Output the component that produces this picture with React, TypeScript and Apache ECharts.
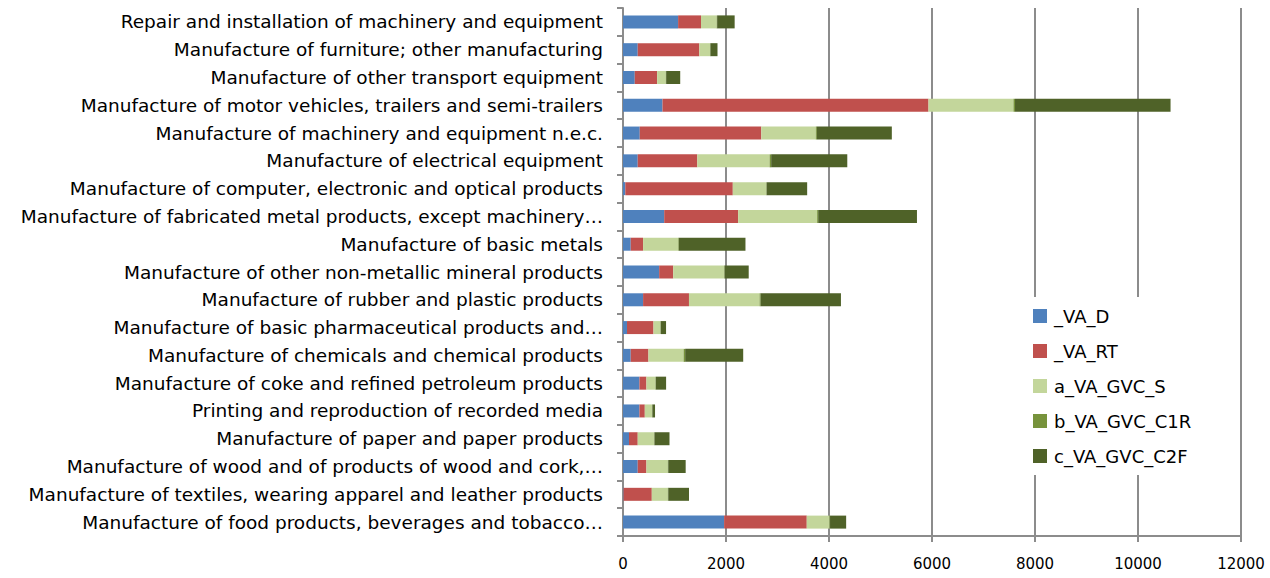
import React, { useEffect, useRef } from "react";
import * as echarts from "echarts";

const categories = [
  "Manufacture of food products, beverages and tobacco…",
  "Manufacture of textiles, wearing apparel and leather products",
  "Manufacture of wood and of products of wood and cork,…",
  "Manufacture of paper and paper products",
  "Printing and reproduction of recorded media",
  "Manufacture of coke and refined petroleum products",
  "Manufacture of chemicals and chemical products",
  "Manufacture of basic pharmaceutical products and…",
  "Manufacture of rubber and plastic products",
  "Manufacture of other non-metallic mineral products",
  "Manufacture of basic metals",
  "Manufacture of fabricated metal products, except machinery…",
  "Manufacture of computer, electronic and optical products",
  "Manufacture of electrical equipment",
  "Manufacture of machinery and equipment n.e.c.",
  "Manufacture of motor vehicles, trailers and semi-trailers",
  "Manufacture of other transport equipment",
  "Manufacture of furniture; other manufacturing",
  "Repair and installation of machinery and equipment",
];

const vaD = [1963, 10, 286, 117, 319, 319, 150, 78, 390, 702, 150, 800, 45, 286, 325, 767, 228, 286, 1070];
const vaRT = [1605, 549, 169, 169, 104, 136, 344, 514, 891, 273, 240, 1436, 2087, 1157, 2360, 5165, 435, 1196, 445];
const vaGvcS = [442, 312, 416, 319, 143, 176, 683, 136, 1371, 988, 683, 1534, 650, 1404, 1059, 1650, 169, 208, 305];
const vaGvcC1R = [10, 8, 8, 6, 4, 5, 30, 4, 20, 10, 12, 20, 8, 30, 20, 30, 6, 8, 8];
const vaGvcC2F = [313, 403, 338, 292, 52, 201, 1127, 104, 1560, 468, 1293, 1918, 786, 1478, 1456, 3020, 273, 137, 340];

const seriesNames = ["_VA_D", "_VA_RT", "a_VA_GVC_S", "b_VA_GVC_C1R", "c_VA_GVC_C2F"];
const seriesColors = ["#4F81BD", "#C0504D", "#C3D69B", "#77933C", "#4F6228"];
const xTicks = [0, 2000, 4000, 6000, 8000, 10000, 12000];

export default function App() {
  const ref = useRef<HTMLDivElement>(null);
  useEffect(() => {
    if (!ref.current) return;
    const chart = echarts.init(ref.current, null, { renderer: "svg" });
    const data = [vaD, vaRT, vaGvcS, vaGvcC1R, vaGvcC2F];
    const font = "'DejaVu Sans', 'Noto Sans', sans-serif";
    chart.setOption({
      animation: false,
      backgroundColor: "#ffffff",
      grid: { left: 623, right: 29, top: 8, bottom: 42 },
      legend: {
        orient: "vertical",
        left: 1021,
        top: 297,
        width: 200,
        padding: [10, 12, 10, 12],
        itemGap: 17,
        itemWidth: 14,
        itemHeight: 14,
        backgroundColor: "#ffffff",
        icon: "rect",
        data: seriesNames,
        textStyle: { fontFamily: font, fontSize: 18, lineHeight: 14, color: "#000", padding: [0, 0, 0, 2] },
      },
      xAxis: {
        type: "value",
        min: xTicks[0],
        max: xTicks[xTicks.length - 1],
        interval: 2000,
        axisLine: { show: true, lineStyle: { color: "#8c8c8c", width: 2 } },
        axisTick: { show: true, length: 6, lineStyle: { color: "#8c8c8c", width: 2 } },
        splitLine: { show: true, lineStyle: { color: "#8c8c8c", width: 2 } },
        axisLabel: {
          fontFamily: font,
          fontSize: 15,
          color: "#000",
          margin: 20,
          formatter: (v: number) => String(v),
        },
      },
      yAxis: {
        type: "category",
        data: categories,
        axisLine: { show: true, lineStyle: { color: "#8c8c8c", width: 2 } },
        axisTick: { show: true, length: 6, lineStyle: { color: "#8c8c8c", width: 2 } },
        axisLabel: { fontFamily: font, fontSize: 18.5, color: "#000", margin: 20 },
      },
      series: seriesNames.map((name, i) => ({
        name,
        type: "bar",
        stack: "total",
        barWidth: 13,
        itemStyle: { color: seriesColors[i] },
        data: data[i],
      })),
    });
    return () => chart.dispose();
  }, []);
  return (
    <div
      ref={ref}
      style={{ position: "fixed", left: 0, top: 0, width: 1270, height: 578 }}
    />
  );
}
